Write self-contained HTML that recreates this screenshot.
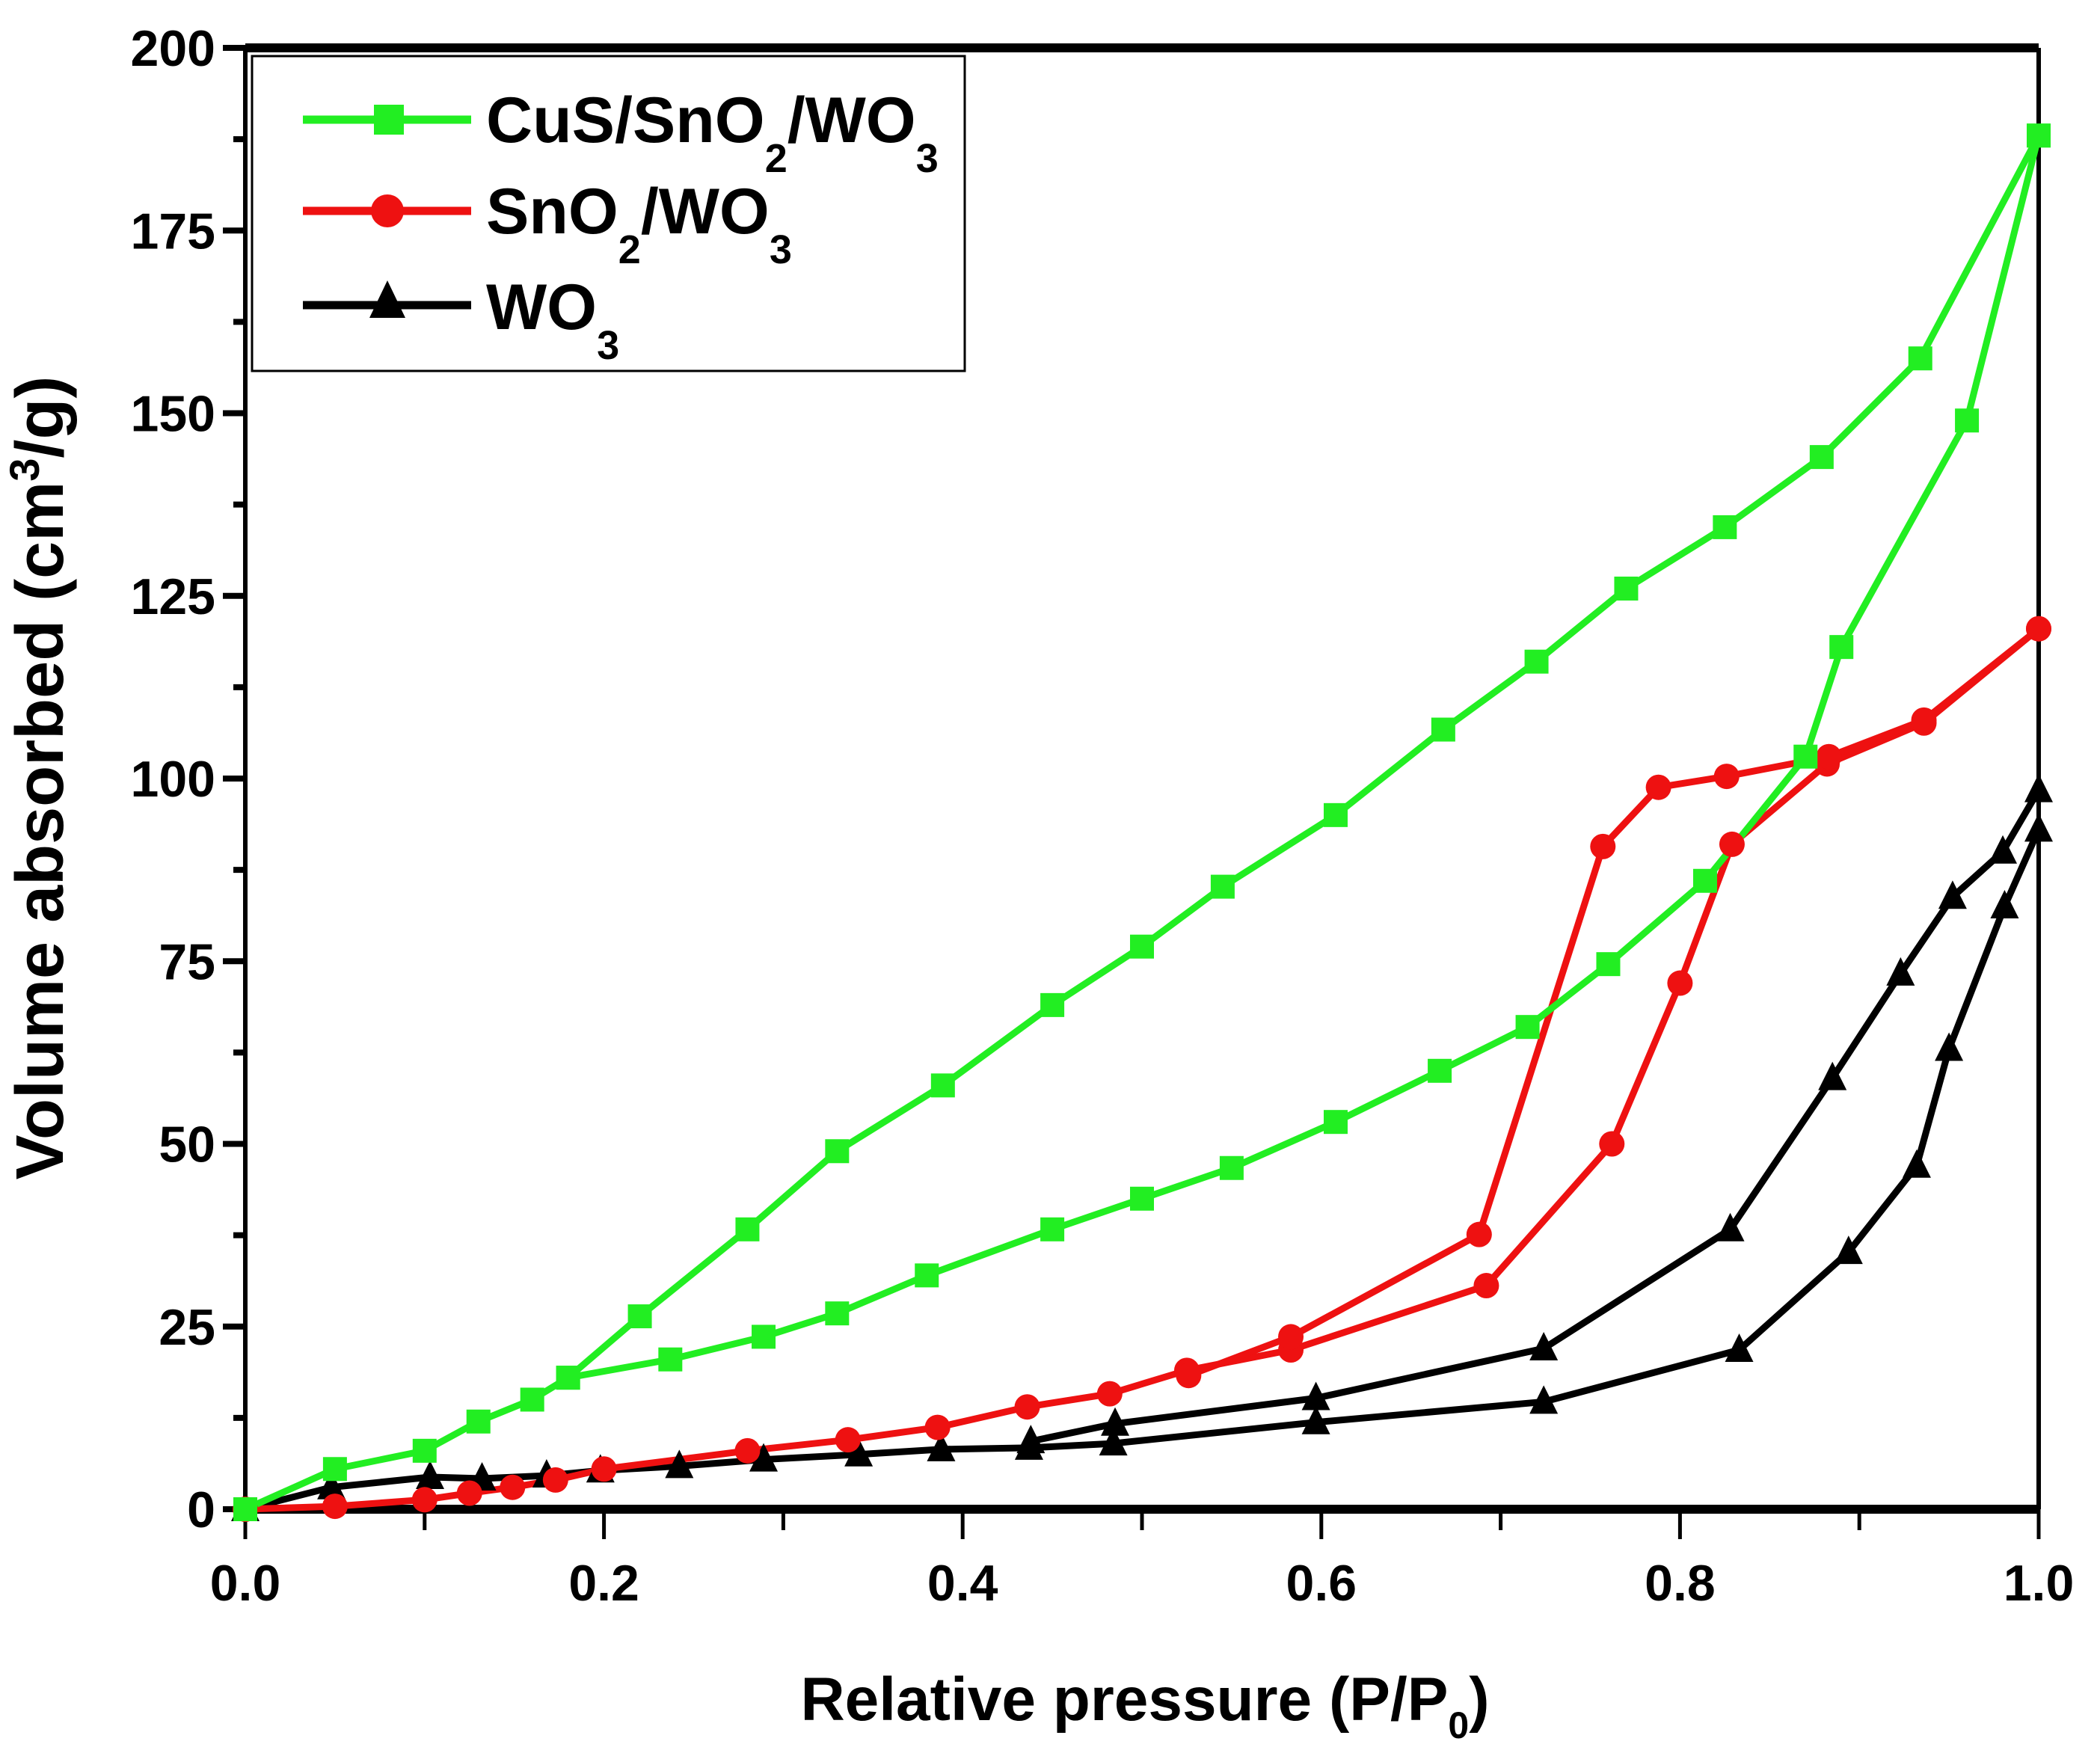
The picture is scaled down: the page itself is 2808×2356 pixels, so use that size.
<!DOCTYPE html>
<html><head><meta charset="utf-8"><style>
html,body{margin:0;padding:0;background:#fff;}
svg{display:block;font-family:"Liberation Sans",Arial,sans-serif;font-weight:bold;}
</style></head><body>
<svg id="chart" width="2808" height="2356" viewBox="0 0 2808 2356" xmlns="http://www.w3.org/2000/svg">
<g id="axes"></g>
<g id="series"></g>
<g id="legend">
  <rect x="337" y="75" width="953" height="421" fill="#fff" stroke="#000" stroke-width="3"/>
  <g>
    <line x1="405" y1="160" x2="630" y2="160" stroke="#22ee22" stroke-width="11"/>
    <rect x="500" y="140" width="40" height="40" fill="#22ee22"/>
    <text x="650" y="190" font-size="86">CuS/SnO<tspan font-size="54" dy="40">2</tspan><tspan dy="-40">/WO</tspan><tspan font-size="54" dy="40">3</tspan></text>
  </g>
  <g>
    <line x1="405" y1="282" x2="630" y2="282" stroke="#ee1111" stroke-width="11"/>
    <circle cx="518" cy="282" r="22" fill="#ee1111"/>
    <text x="650" y="312" font-size="86">SnO<tspan font-size="54" dy="40">2</tspan><tspan dy="-40">/WO</tspan><tspan font-size="54" dy="40">3</tspan></text>
  </g>
  <g>
    <line x1="405" y1="408" x2="630" y2="408" stroke="#000" stroke-width="11"/>
    <polygon points="518,375 494,425 542,425" fill="#000"/>
    <text x="650" y="440" font-size="86">WO<tspan font-size="54" dy="40">3</tspan></text>
  </g>
</g>
<text x="1531" y="2300" font-size="82" text-anchor="middle">Relative pressure (P/P<tspan font-size="50" dy="24">0</tspan><tspan dy="-24">)</tspan></text>
<text transform="translate(84,1040) rotate(-90)" font-size="90" text-anchor="middle">Volume absorbed (cm<tspan font-size="56" dy="-32">3</tspan><tspan dy="32">/g)</tspan></text>
</svg>
<script>
const xTicks=[0,0.2,0.4,0.6,0.8,1.0];
const xTickLabels=["0.0","0.2","0.4","0.6","0.8","1.0"];
const yTicks=[0,25,50,75,100,125,150,175,200];
const yTickLabels=["0","25","50","75","100","125","150","175","200"];
const cusAdsX=[0,0.05,0.1,0.13,0.16,0.18,0.237,0.289,0.33,0.38,0.45,0.5,0.55,0.608,0.666,0.715,0.76,0.814,0.87,0.89,0.96,1.0];
const cusAdsY=[0,5.5,8,12,15,18,20.5,23.6,26.8,32,38.3,42.5,46.7,53,60,66,74.6,86,103,118,149,188];
const cusDesX=[1.0,0.934,0.879,0.825,0.77,0.72,0.668,0.608,0.545,0.5,0.45,0.389,0.33,0.28,0.22,0.18];
const cusDesY=[188,157.5,144,134.4,126,116,106.7,95,85.2,77,69,58,49,38.3,26.4,18];
const snAdsX=[0,0.05,0.1,0.125,0.149,0.173,0.2,0.28,0.336,0.386,0.436,0.482,0.525,0.583,0.692,0.762,0.8,0.829,0.882,0.936,1.0];
const snAdsY=[0,0.4,1.3,2.2,3,4,5.5,8,9.5,11.2,14,15.8,19,21.8,30.6,50,72,91,102,107.6,120.5];
const snDesX=[1.0,0.936,0.883,0.826,0.788,0.757,0.688,0.583,0.526];
const snDesY=[120.5,108,103,100.3,98.8,90.7,37.6,23.6,18.3];
const woAdsX=[0,0.048,0.103,0.132,0.168,0.198,0.242,0.289,0.342,0.388,0.437,0.484,0.597,0.724,0.833,0.894,0.932,0.95,0.981,1.0];
const woAdsY=[0,3,4.4,4.2,4.6,5.3,5.9,6.8,7.5,8.2,8.4,9,11.9,14.7,21.8,35.2,47,63,82.5,93];
const woDesX=[1.0,0.98,0.952,0.923,0.885,0.828,0.724,0.597,0.485,0.438];
const woDesY=[98.4,90,83.8,73.3,59,38.3,22,15.2,11.7,9.3];

const X0=328,X1=2726,Y0=2018,Y1=64;
const sx=v=>X0+(v-0)/(1-0)*(X1-X0);
const sy=v=>Y0-(v/200)*(Y0-Y1);
const NS="http://www.w3.org/2000/svg";
function mk(tag,attrs,parent){const e=document.createElementNS(NS,tag);for(const k in attrs)e.setAttribute(k,attrs[k]);parent.appendChild(e);return e;}
const axes=document.getElementById('axes');
let fr;
fr=mk('line',{x1:X0,y1:Y1,x2:X1,y2:Y1,stroke:'#000','stroke-width':12},axes);


fr=mk('line',{x1:X0,y1:Y0,x2:X1,y2:Y0,stroke:'#000','stroke-width':12},axes);


fr=mk('line',{x1:X0,y1:Y1,x2:X0,y2:Y0,stroke:'#000','stroke-width':6},axes);


fr=mk('line',{x1:X1,y1:Y1,x2:X1,y2:Y0,stroke:'#000','stroke-width':6},axes);


xTicks.forEach((v,i)=>{
  const t=mk('line',{x1:sx(v),y1:Y0,x2:sx(v),y2:Y0+40,stroke:'#000','stroke-width':5},axes);
  
  
  const l=mk('text',{x:sx(v),y:Y0+122,'font-size':68,'text-anchor':'middle'},axes);
  l.textContent=xTickLabels[i];
  
  
  if(i<xTicks.length-1){
    const m=mk('line',{x1:sx(v+0.1),y1:Y0,x2:sx(v+0.1),y2:Y0+28,stroke:'#000','stroke-width':5},axes);
    
    
  }
});
yTicks.forEach((v,i)=>{
  const t=mk('line',{x1:X0-30,y1:sy(v),x2:X0,y2:sy(v),stroke:'#000','stroke-width':8},axes);
  
  
  const l=mk('text',{x:X0-40,y:sy(v)+24,'font-size':68,'text-anchor':'end'},axes);
  l.textContent=yTickLabels[i];
  
  
  if(i<yTicks.length-1){
    const m=mk('line',{x1:X0-16,y1:sy(v+12.5),x2:X0,y2:sy(v+12.5),stroke:'#000','stroke-width':8},axes);
    
    
  }
});
const ser=document.getElementById('series');
function line(xs,ys,color,name){
  const p=mk('polyline',{points:xs.map((x,i)=>sx(x)+','+sy(ys[i])).join(' '),fill:'none',stroke:color,'stroke-width':9,'stroke-linejoin':'round'},ser);
  
  
}
function markers(xs,ys,color,shape,name){
  xs.forEach((x,i)=>{
    const cx=sx(x),cy=sy(ys[i]);let m;
    if(shape==='sq')m=mk('rect',{x:cx-16,y:cy-16,width:32,height:32,fill:color},ser);
    else if(shape==='ci')m=mk('circle',{cx:cx,cy:cy,r:17,fill:color},ser);
    else m=mk('polygon',{points:`${cx},${cy-22} ${cx-19},${cy+16} ${cx+19},${cy+16}`,fill:color},ser);
    
    
  });
}
const G='#22ee22',R='#ee1111',K='#000';
line(woAdsX,woAdsY,K,'wo3-adsorption-line');line(woDesX,woDesY,K,'wo3-desorption-line');
line(snAdsX,snAdsY,R,'sno2-adsorption-line');line(snDesX,snDesY,R,'sno2-desorption-line');
line(cusAdsX,cusAdsY,G,'cus-adsorption-line');line(cusDesX,cusDesY,G,'cus-desorption-line');
markers(woAdsX,woAdsY,K,'tr','wo3-point');markers(woDesX,woDesY,K,'tr','wo3-point');
markers(snAdsX,snAdsY,R,'ci','sno2-point');markers(snDesX,snDesY,R,'ci','sno2-point');
markers(cusAdsX,cusAdsY,G,'sq','cus-point');markers(cusDesX,cusDesY,G,'sq','cus-point');
</script>
</body></html>
